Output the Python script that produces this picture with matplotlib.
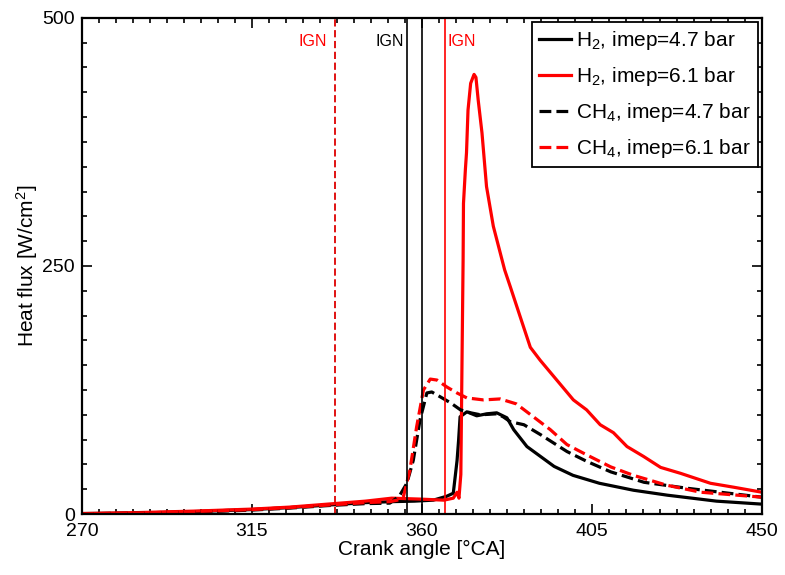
import matplotlib
matplotlib.use("Agg")
import matplotlib.pyplot as plt
from matplotlib.ticker import MultipleLocator

plt.rcParams['font.family'] = ['Liberation Sans', 'DejaVu Sans']
plt.rcParams['mathtext.default'] = 'regular'

# heat flux traces [W/cm2] vs crank angle [deg CA]
h2_low_ca = [270, 285, 300, 315, 325, 335, 345, 352, 358, 363, 366.6, 368.3, 369.3, 369.7,
             370.1, 371.9, 374.5, 377.2, 379.8, 382.5, 384.3, 387.8, 391.4, 395, 400, 407,
             416, 425, 438, 450]
h2_low_q = [0.5, 1, 2.5, 4.5, 6.5, 9, 11.5, 12.5, 13, 14, 18, 21, 54, 74,
            98, 103, 99, 101, 102, 97, 85, 68, 58, 48, 39, 31,
            24, 19, 13, 10]

h2_high_ca = [270, 285, 300, 315, 325, 335, 345, 352, 360, 365.8, 368.3, 369.3, 369.8, 370.3,
              370.6, 370.9, 371.0, 371.5, 371.8, 372.2, 372.9, 373.8, 374.3, 374.9, 375.9,
              377.1, 378.9, 381.9, 383.4, 386, 388.7, 391.3, 395.7, 400.1, 403.6, 407.2,
              410.7, 414.3, 418.7, 423.2, 428.5, 436.4, 442.6, 450]
h2_high_q = [0.5, 1.5, 3, 5, 7, 10, 13, 16, 15, 14, 16, 22, 16, 40,
             150, 256, 313, 347, 364, 407, 434, 443, 440, 417, 384,
             330, 290, 246, 229, 199, 168, 155, 135, 115, 105, 90,
             82, 68, 58, 47, 41, 31, 27, 22]

ch4_low_ca = [270, 285, 300, 315, 325, 335, 345, 351.5, 354, 356, 357.7, 359.5, 361.3, 362.6,
              364.9, 367.6, 370.2, 372.9, 375.5, 379.8, 381.5, 383.4, 387, 391.4, 398.4,
              403.7, 410, 418.8, 430.2, 450]
ch4_low_q = [0.3, 0.8, 2, 4, 6, 8.5, 10.5, 11, 18, 31, 54, 95, 122, 123,
             118, 112, 105, 102, 100, 101, 98, 93, 90, 80, 63,
             53, 42.5, 32, 26, 17]

ch4_high_ca = [270, 285, 300, 315, 325, 335, 345, 351.5, 353.5, 355.1, 356.8, 358.6, 360.4,
               362.2, 364, 366.6, 369.3, 371.9, 376.3, 380.7, 385, 389.5, 394, 398.4, 403.7,
               410, 416, 424.9, 433.8, 450]
ch4_high_q = [0.3, 1, 2.5, 4.5, 6.5, 9, 11.5, 12.5, 14, 17.5, 44, 88, 125,
              136, 135, 128, 122, 117, 115, 116, 111, 98, 85, 70, 59.5,
              47.5, 39, 29, 22, 17]

# ignition timings [deg CA]
ign_ch4_high = 337
ign_ch4_low = 356
ign_h2_low = 360
ign_h2_high = 366

fig = plt.figure(figsize=(7.85, 5.75), dpi=100)
ax = fig.add_axes([0.1045, 0.106, 0.866, 0.863])

lw = 2.3
ax.plot(h2_low_ca, h2_low_q, color='black', lw=lw, label='H$_2$, imep=4.7 bar')
ax.plot(h2_high_ca, h2_high_q, color='red', lw=lw, label='H$_2$, imep=6.1 bar')
ax.plot(ch4_low_ca, ch4_low_q, color='black', lw=lw, ls='--', label='CH$_4$, imep=4.7 bar')
ax.plot(ch4_high_ca, ch4_high_q, color='red', lw=lw, ls='--', label='CH$_4$, imep=6.1 bar')

# ignition markers
ax.axvline(ign_ch4_high, color='#dd0000', lw=1.3, ls=(0, (4, 2)))
ax.axvline(ign_ch4_low, color='black', lw=1.2)
ax.axvline(ign_h2_low, color='black', lw=1.2)
ax.axvline(ign_h2_high, color='red', lw=1.2)
ax.text(ign_ch4_high - 2.1, 476, 'IGN', color='red', fontsize=11.5, ha='right', va='center')
ax.text(ign_ch4_low - 0.8, 476, 'IGN', color='black', fontsize=11.5, ha='right', va='center')
ax.text(ign_h2_high + 0.8, 476, 'IGN', color='red', fontsize=11.5, ha='left', va='center')

ax.set_xlim(270, 450)
ax.set_ylim(0, 500)
ax.xaxis.set_major_locator(MultipleLocator(45))
ax.xaxis.set_minor_locator(MultipleLocator(4.5))
ax.yaxis.set_major_locator(MultipleLocator(250))
ax.yaxis.set_minor_locator(MultipleLocator(25))
ax.tick_params(which='both', direction='in', top=True, right=True, labelsize=14, width=1.2)
ax.tick_params(which='major', length=7)
ax.tick_params(axis='x', which='major', pad=6.5)
ax.tick_params(axis='y', which='major', pad=5)
ax.tick_params(which='minor', length=3.5)
for s in ax.spines.values():
    s.set_linewidth(1.6)

ax.set_xlabel('Crank angle [°CA]', fontsize=15, labelpad=0)
ax.set_ylabel('Heat flux [W/cm$^2$]', fontsize=15, labelpad=2)

leg = ax.legend(loc='upper right', fontsize=15, fancybox=False, edgecolor='black',
                framealpha=1, handlelength=1.5, handletextpad=0.25, borderaxespad=0.2,
                labelspacing=0.62, borderpad=0.35)
leg.get_frame().set_linewidth(1.3)

fig.savefig('out.png', dpi=100)
